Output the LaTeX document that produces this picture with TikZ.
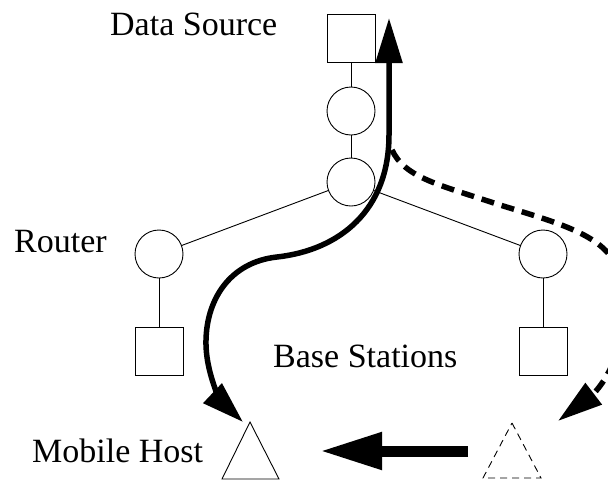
\documentclass[tikz,border=0pt]{standalone}
\usepackage{fontspec}
\setmainfont{Liberation Serif}
\usetikzlibrary{arrows.meta}
\begin{document}
\begin{tikzpicture}[x=1pt,y=-1pt,
  sq/.style={draw,line width=0.9pt,minimum size=48pt,inner sep=0pt},
  rt/.style={draw,circle,line width=0.9pt,minimum size=48pt,inner sep=0pt},
  link/.style={line width=0.9pt},
  lbl/.style={anchor=base west,inner sep=0pt,font=\fontsize{34}{40}\selectfont},
  route/.style={line width=5.5pt,-{Triangle[length=45pt,width=26pt]}},
  moveto/.style={line width=11pt,-{Triangle[length=62pt,width=35pt]}}]
\useasboundingbox (0,0) rectangle (608,480);
% nodes
\node[sq] (ds) at (351,38) {};
\node[rt] (c1) at (351,111) {};
\node[rt] (c2) at (351,182) {};
\node[rt] (rl) at (159,254) {};
\node[rt] (rr) at (543,254) {};
\node[sq] (bl) at (159,351) {};
\node[sq] (br) at (543,351) {};
% links
\draw[link] (ds) -- (c1);
\draw[link] (c1) -- (c2);
\draw[link] (c2) -- (rl);
\draw[link] (c2) -- (rr);
\draw[link] (rl) -- (bl);
\draw[link] (rr) -- (br);
% mobile hosts
\coordinate (mh) at (250,422);
\coordinate (mhl) at (222,479);
\coordinate (mhr) at (279,479);
\draw[line width=0.9pt,line join=miter] (mh) -- (mhr) -- (mhl) -- cycle;
\coordinate (oh) at (512,423);
\coordinate (ohl) at (483,478);
\coordinate (ohr) at (541,478);
\draw[line width=0.9pt,dash pattern=on 7pt off 5pt] (oh) -- (ohr) -- (ohl) -- cycle;
% labels
\node[lbl] (tds) at (110,35) {Data Source};
\node[lbl] (trt) at (14,252) {Router};
\node[lbl] (tbs) at (273,367) {Base Stations};
\node[lbl] (tmh) at (32,462) {Mobile Host};
% paths
\coordinate (upend) at (389,18);
\coordinate (downend) at (243,422);
\coordinate (s1) at (389,135);
\coordinate (s2) at (277,257);
\coordinate (s3) at (206,345);
\draw[route,{Triangle[length=42pt,width=26pt]}-{Triangle[length=45pt,width=26pt]}]
  (downend) .. controls (225,405) and (207,380) .. (s3)
  .. controls (205,300) and (230,262) .. (s2)
  .. controls (340,250) and (389,210) .. (s1) -- (upend);
\coordinate (dstart) at (392,150);
\coordinate (d1) at (500,205);
\coordinate (d2) at (620,280);
\coordinate (d3) at (620,325);
\coordinate (dend) at (558,421);
\draw[route,dash pattern=on 13pt off 8pt] (dstart) .. controls (405,178) and (440,185) .. (d1)
  .. controls (565,225) and (615,238) .. (d2) -- (d3)
  .. controls (620,370) and (592,395) .. (dend);
\coordinate (hfrom) at (468,451);
\coordinate (hto) at (320,451);
\draw[moveto] (hfrom) -- (hto);
\end{tikzpicture}
\end{document}
